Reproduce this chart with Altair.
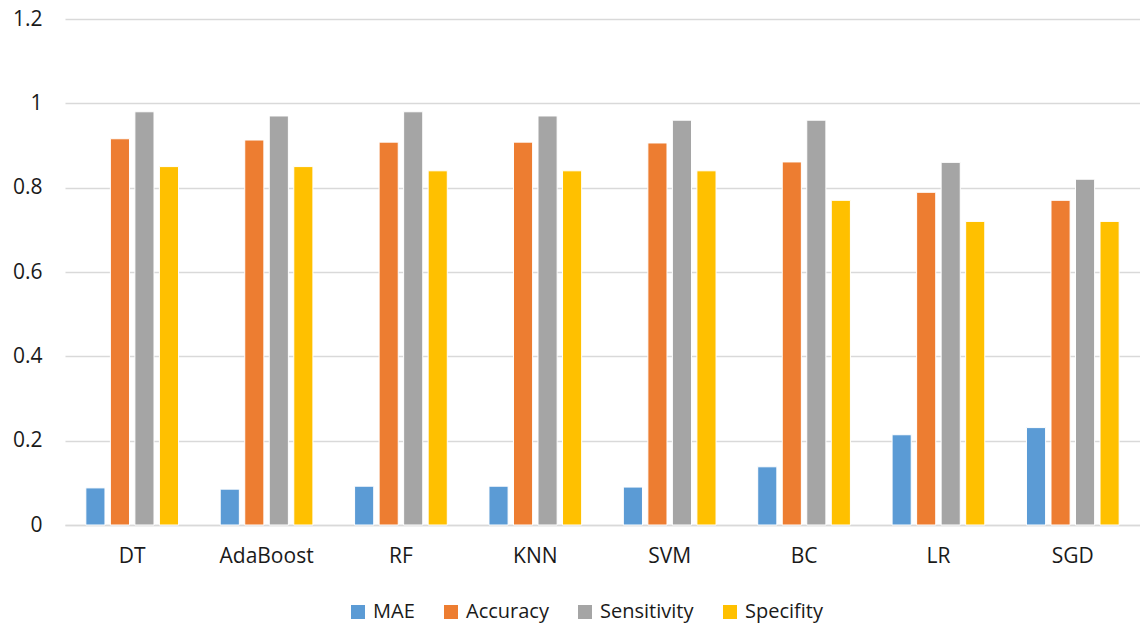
import altair as alt
import pandas as pd

# Model comparison: error and classification metrics per model
models = ["DT", "AdaBoost", "RF", "KNN", "SVM", "BC", "LR", "SGD"]
metrics = ["MAE", "Accuracy", "Sensitivity", "Specifity"]
colors = ["#5B9BD5", "#ED7D31", "#A5A5A5", "#FFC000"]

mae = [0.088, 0.085, 0.092, 0.092, 0.090, 0.138, 0.214, 0.231]
accuracy = [0.916, 0.913, 0.908, 0.908, 0.906, 0.861, 0.789, 0.770]
sensitivity = [0.98, 0.97, 0.98, 0.97, 0.96, 0.96, 0.86, 0.82]
specifity = [0.85, 0.85, 0.84, 0.84, 0.84, 0.77, 0.72, 0.72]

series = dict(zip(metrics, [mae, accuracy, sensitivity, specifity]))
rows = [
    {"Model": m, "Metric": k, "Value": v}
    for k, vals in series.items()
    for m, v in zip(models, vals)
]
df = pd.DataFrame(rows)

FONT = "Open Sans"
TEXT = "#1a1a1a"
GRID = "#d9d9d9"

chart = (
    alt.Chart(df)
    .mark_bar(stroke="white", strokeWidth=1)
    .encode(
        x=alt.X(
            "Model:N",
            sort=models,
            title=None,
            scale=alt.Scale(paddingInner=0, paddingOuter=0),
            axis=alt.Axis(
                labelAngle=0,
                ticks=False,
                grid=False,
                domain=True,
                domainColor=GRID,
                domainWidth=1.5,
                labelPadding=20,
                labelFontSize=21,
                labelColor=TEXT,
                labelFont=FONT,
            ),
        ),
        xOffset=alt.XOffset(
            "Metric:N",
            sort=metrics,
            scale=alt.Scale(paddingInner=0.22, paddingOuter=0.85),
        ),
        y=alt.Y(
            "Value:Q",
            title=None,
            scale=alt.Scale(domain=[0, 1.2], nice=False),
            axis=alt.Axis(
                values=[0, 0.2, 0.4, 0.6, 0.8, 1.0, 1.2],
                format="~g",
                domain=False,
                ticks=False,
                labelPadding=23,
                labelFontSize=21,
                labelColor=TEXT,
                labelFont=FONT,
                gridColor=GRID,
                gridWidth=1.5,
            ),
        ),
        color=alt.Color(
            "Metric:N",
            sort=metrics,
            scale=alt.Scale(domain=metrics, range=colors),
            legend=alt.Legend(
                title=None,
                orient="none",
                direction="horizontal",
                legendX=283,
                legendY=583,
                symbolType="square",
                symbolSize=196,
                symbolStrokeWidth=0,
                labelFontSize=20,
                labelColor=TEXT,
                labelFont=FONT,
                columnPadding=26,
                symbolOffset=0,
                labelOffset=5,
            ),
        ),
    )
    .properties(
        width=1075,
        height=506,
        background="white",
        padding={"left": 65, "top": 19, "right": 0, "bottom": 102},
        autosize=alt.AutoSizeParams(type="none"),
    )
    .configure_view(stroke=None, strokeWidth=0)
)

chart.save("out.html", embed_options={"renderer": "svg", "actions": False})
